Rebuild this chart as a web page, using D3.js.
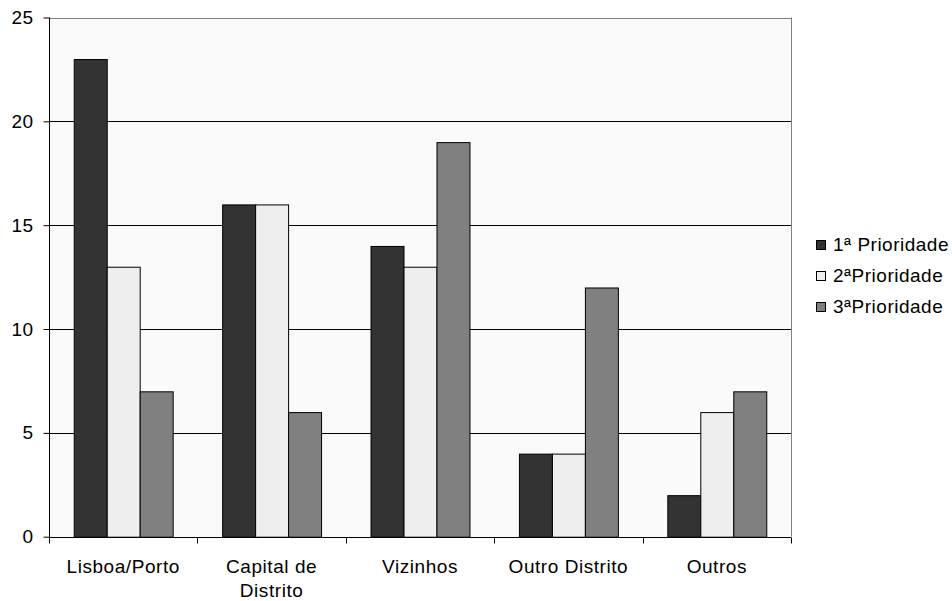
<!DOCTYPE html>
<html>
<head>
<meta charset="utf-8">
<script src="https://cdn.jsdelivr.net/npm/d3@7"></script>
<style>
  html, body { margin: 0; padding: 0; background: #ffffff; }
  svg { display: block; font-family: "Liberation Sans", Arial, sans-serif; }
</style>
</head>
<body>
<svg id="chart" width="952" height="601"></svg>
<script>
const categories = ["Lisboa/Porto", "Capital de Distrito", "Vizinhos", "Outro Distrito", "Outros"];
const categoryLines = [["Lisboa/Porto"], ["Capital de", "Distrito"], ["Vizinhos"], ["Outro Distrito"], ["Outros"]];
const seriesNames = ["1ª Prioridade", "2ªPrioridade", "3ªPrioridade"];
const prioridade1 = [23, 16, 14, 4, 2];
const prioridade2 = [13, 16, 13, 4, 6];
const prioridade3 = [7, 6, 19, 12, 7];
const seriesColors = ["#333333", "#eeeeee", "#808080"];
const yTicks = [0, 5, 10, 15, 20, 25];

const seriesValues = [prioridade1, prioridade2, prioridade3];
const data = categories.map((c, i) => ({
  category: c,
  values: seriesNames.map((s, j) => ({ series: s, value: seriesValues[j][i], idx: j }))
}));

const svg = d3.select("#chart");
const pLeft = 49, pRight = 791, pTop = 17.5, pBottom = 536.7;
const fontSize = 19;
const fontFam = "'Liberation Sans', Arial, sans-serif";

const x = d3.scaleBand().domain(categories).range([pLeft, pRight]).padding(0);
const y = d3.scaleLinear().domain([0, 25]).range([pBottom, pTop]);
const gap = x.bandwidth() / 3;
const x1 = d3.scaleBand().domain(seriesNames).range([gap / 2, x.bandwidth() - gap / 2]).padding(0);

// plot background
svg.append("rect")
  .attr("x", pLeft).attr("y", pTop)
  .attr("width", pRight - pLeft).attr("height", pBottom - pTop)
  .attr("fill", "#fafafa");

// gridlines
svg.append("g").selectAll("line")
  .data(yTicks.filter(t => t > 0))
  .join("line")
  .attr("x1", pLeft).attr("x2", pRight)
  .attr("y1", d => Math.round(y(d)) + 0.5).attr("y2", d => Math.round(y(d)) + 0.5)
  .attr("stroke", d => d === 25 ? "#808080" : "#000")
  .attr("stroke-width", 1);

// right border
svg.append("line")
  .attr("x1", pRight + 0.5).attr("x2", pRight + 0.5)
  .attr("y1", pTop).attr("y2", pBottom)
  .attr("stroke", "#808080");

// bars
const groups = svg.append("g").selectAll("g")
  .data(data)
  .join("g")
  .attr("transform", d => `translate(${x(d.category)},0)`);

groups.selectAll("rect")
  .data(d => d.values)
  .join("rect")
  .attr("x", d => x1(d.series) + 0.5)
  .attr("y", d => y(d.value) + 0.5)
  .attr("width", x1.bandwidth())
  .attr("height", d => y(0) - y(d.value))
  .attr("fill", d => seriesColors[d.idx])
  .attr("stroke", "#000")
  .attr("stroke-width", 1);

// Y axis
const yAxis = d3.axisLeft(y).tickValues(yTicks).tickSize(6).tickPadding(10).tickFormat(d3.format("d"));
const gy = svg.append("g")
  .attr("transform", `translate(${pLeft + 0.5},0)`)
  .call(yAxis);
gy.select(".domain").attr("stroke", "#000").attr("d", `M0,${pTop}V${pBottom + 6}`);
gy.selectAll(".tick line").attr("stroke", "#000");
gy.selectAll(".tick text")
  .attr("font-size", fontSize).attr("fill", "#000")
  .attr("font-family", fontFam)
  .attr("letter-spacing", "0.4px");

// X axis
const xAxis = d3.axisBottom(x).tickSize(0).tickFormat("");
const gx = svg.append("g")
  .attr("transform", `translate(0,${Math.round(pBottom) + 0.5})`)
  .call(xAxis);
gx.select(".domain").attr("stroke", "#000").attr("d", `M${pLeft},0H${pRight}`);
gx.selectAll(".tick").remove();

// category boundary ticks
const boundaries = categories.map(c => x(c)).concat([pRight]);
gx.append("g").selectAll("line")
  .data(boundaries)
  .join("line")
  .attr("x1", d => Math.round(d) + 0.5).attr("x2", d => Math.round(d) + 0.5)
  .attr("y1", 0).attr("y2", 6)
  .attr("stroke", "#000");

// category labels
const labels = svg.append("g").selectAll("text")
  .data(categories)
  .join("text")
  .attr("x", d => x(d) + x.bandwidth() / 2)
  .attr("y", 573)
  .attr("text-anchor", "middle")
  .attr("font-size", fontSize)
  .attr("font-family", fontFam)
  .attr("letter-spacing", "0.55px")
  .attr("fill", "#000");
labels.each(function(d, i) {
  d3.select(this).selectAll("tspan")
    .data(categoryLines[i])
    .join("tspan")
    .attr("x", x(d) + x.bandwidth() / 2)
    .attr("dy", (t, k) => k === 0 ? 0 : 24)
    .text(t => t);
});

// legend
const legend = svg.append("g").selectAll("g")
  .data(seriesNames)
  .join("g")
  .attr("transform", (d, i) => `translate(816,${240 + i * 31})`);
legend.append("rect")
  .attr("x", 0.5).attr("y", 0.5)
  .attr("width", 9).attr("height", 9)
  .attr("fill", (d, i) => seriesColors[i])
  .attr("stroke", "#000");
legend.append("text")
  .attr("x", 17).attr("y", 10.5)
  .attr("font-size", fontSize)
  .attr("font-family", fontFam)
  .attr("letter-spacing", "0.5px")
  .attr("fill", "#000")
  .text(d => d);
</script>
</body>
</html>
